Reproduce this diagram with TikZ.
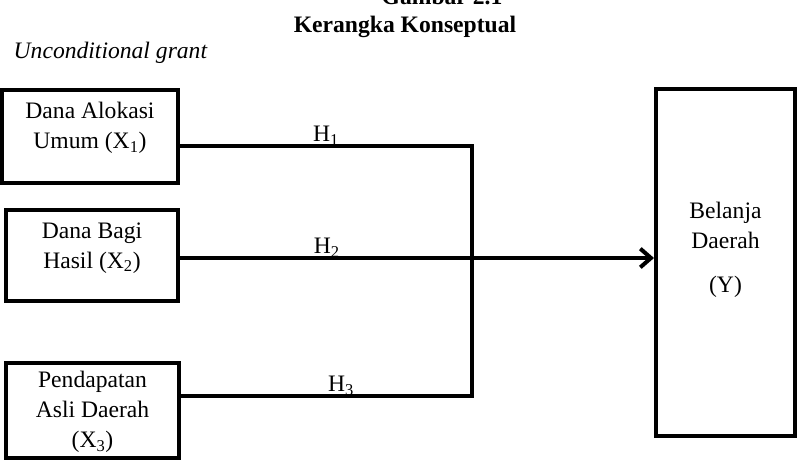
\documentclass[tikz,border=0pt]{standalone}
\usepackage{fontspec}
\setmainfont{Liberation Serif}
\usetikzlibrary{arrows.meta}
\tikzset{>={Straight Barb[length=8pt, width=14pt]}}
\newcommand*{\bodyfont}{\fontsize{17.7}{22.5}\selectfont}

\begin{document}
\begin{tikzpicture}[x=.75pt, y=-.75pt, line width=3pt, font=\bodyfont,
    box/.style={draw, rectangle, inner sep=0pt},
    hlab/.style={anchor=base, inner sep=0pt, yshift=3.3pt}]
    \useasboundingbox (0, 0) rectangle (801, 464);
    % headings
    \node[anchor=base, inner sep=0pt, font=\bodyfont\bfseries](fig)at(442, 4){Gambar 2.1};
    \node[anchor=base, inner sep=0pt, font=\bodyfont\bfseries](title)at(405, 32){Kerangka Konseptual};
    \node[anchor=base west, inner sep=0pt, font=\bodyfont\itshape](grant)at(11.7, 58){Unconditional grant};
    % variables
    \node[box, minimum width=132pt, minimum height=69.75pt,
        label={[align=center, yshift=6.4pt]center:Dana Alokasi\\Umum (X\textsubscript{1})}](dau)at(90, 136.5){};
    \node[box, minimum width=129pt, minimum height=68.25pt,
        label={[align=center, yshift=5.6pt]center:Dana Bagi\\Hasil (X\textsubscript{2})}](dbh)at(92, 255.5){};
    \node[box, minimum width=129.75pt, minimum height=71.25pt,
        label={[align=center, yshift=-1.1pt]center:Pendapatan\\Asli Daerah\\(X\textsubscript{3})}](pad)at(92.5, 410.5){};
    \node[box, minimum width=104.25pt, minimum height=260.25pt,
        label={[align=center, yshift=9.4pt]center:Belanja\\Daerah\\[10pt](Y)}](bd)at(725.5, 262.5){};
    % hypotheses
    \coordinate(j1)at(472, 146);
    \coordinate(j2)at(472, 258);
    \coordinate(j3)at(472, 396);
    \draw(dau.east |- j1)--node[hlab]{H\textsubscript{1}}(j1)--(j3)--node[hlab, pos=.45]{H\textsubscript{3}}(pad.east |- j3);
    \draw[->](dbh.east |- j2)--node[hlab, pos=.31]{H\textsubscript{2}}(bd.west |- j2);
\end{tikzpicture}
\end{document}
